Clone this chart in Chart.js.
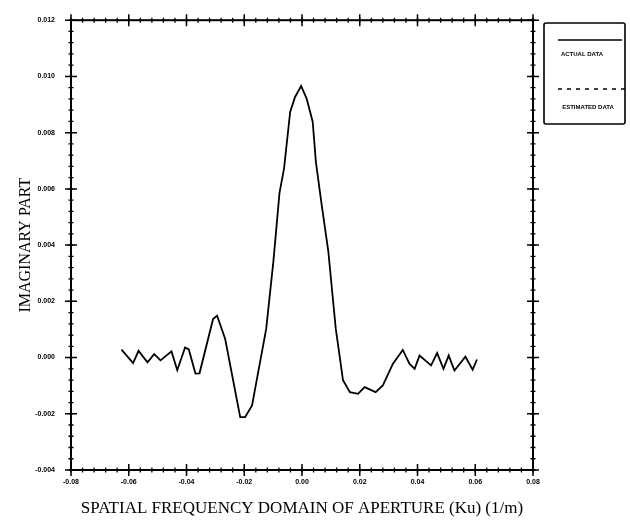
<!DOCTYPE html>
<html>
<head>
<meta charset="utf-8">
<script src="https://cdn.jsdelivr.net/npm/chart.js@4.4.1/dist/chart.umd.min.js"></script>
<style>
  html, body { margin: 0; padding: 0; background: #fff; }
  #wrap { width: 630px; height: 523px; position: relative; }
</style>
</head>
<body>
<div id="wrap"><canvas id="c" width="630" height="523"></canvas></div>
<script>
// ---- data ----
const kuValues = [-0.0625,-0.0585,-0.0566,-0.0552,-0.0535,-0.0512,-0.0490,-0.0452,-0.0432,-0.0405,-0.0392,-0.0369,-0.0355,-0.0308,-0.0294,-0.0266,-0.0214,-0.0197,-0.0173,-0.0124,-0.0099,-0.0078,-0.0062,-0.0041,-0.0024,-0.0003,0.0016,0.0037,0.0048,0.0068,0.0091,0.0117,0.0131,0.0142,0.0166,0.0194,0.0217,0.0255,0.0280,0.0315,0.0349,0.0372,0.0390,0.0407,0.0447,0.0468,0.0490,0.0508,0.0528,0.0566,0.0591,0.0606];
const actualData = [0.00028,-0.0002,0.00024,0.00005,-0.00017,0.00012,-0.0001,0.00022,-0.00045,0.00036,0.00029,-0.00057,-0.00056,0.00137,0.00149,0.00066,-0.00212,-0.00212,-0.0017,0.00102,0.00343,0.00585,0.00674,0.00874,0.00927,0.00966,0.00921,0.00839,0.00697,0.00544,0.00379,0.00102,0.00001,-0.00081,-0.00123,-0.00129,-0.00105,-0.00123,-0.00099,-0.00022,0.00027,-0.00022,-0.0004,0.00007,-0.00028,0.00016,-0.0004,0.00007,-0.00046,0.00003,-0.00043,-0.00007];
const xTicks = [-0.08,-0.06,-0.04,-0.02,0.00,0.02,0.04,0.06,0.08];
const xTickLabels = ["-0.08","-0.06","-0.04","-0.02","0.00","0.02","0.04","0.06","0.08"];
const yTicks = [-0.004,-0.002,0.000,0.002,0.004,0.006,0.008,0.010,0.012];
const yTickLabels = ["-0.004","-0.002","0.000","0.002","0.004","0.006","0.008","0.010","0.012"];
const xMinorStep = 0.004;
const yMinorStep = 0.0004;
const legendLabels = ["ACTUAL DATA", "ESTIMATED DATA"];
const xTitle = "SPATIAL FREQUENCY DOMAIN OF APERTURE (Ku) (1/m)";
const yTitle = "IMAGINARY PART";

const points = kuValues.map((x, i) => ({ x: x, y: actualData[i] }));

function minorValues(min, max, step) {
  const out = [];
  const n = Math.round((max - min) / step);
  for (let i = 0; i <= n; i++) out.push(min + i * step);
  return out;
}

const framePlugin = {
  id: 'frame',
  afterDraw(chart) {
    const { ctx, chartArea: a, scales } = chart;
    const xs = scales.x, ys = scales.y;
    ctx.save();
    ctx.strokeStyle = '#000';
    ctx.lineCap = 'butt';
    // frame
    ctx.lineWidth = 2;
    ctx.strokeRect(a.left, a.top, a.right - a.left, a.bottom - a.top);
    // ticks
    ctx.lineWidth = 1.3;
    const xm = minorValues(xTicks[0], xTicks[xTicks.length - 1], xMinorStep);
    const ym = minorValues(yTicks[0], yTicks[yTicks.length - 1], yMinorStep);
    ctx.beginPath();
    xm.forEach(v => {
      const px = xs.getPixelForValue(v);
      ctx.moveTo(px, a.bottom - 2.5); ctx.lineTo(px, a.bottom + 2.5);
      ctx.moveTo(px, a.top - 2.5); ctx.lineTo(px, a.top + 2.5);
    });
    ym.forEach(v => {
      const py = ys.getPixelForValue(v);
      ctx.moveTo(a.left - 2.5, py); ctx.lineTo(a.left + 2.5, py);
      ctx.moveTo(a.right - 2.5, py); ctx.lineTo(a.right + 2.5, py);
    });
    ctx.stroke();
    ctx.lineWidth = 1.5;
    ctx.beginPath();
    xTicks.forEach(v => {
      const px = xs.getPixelForValue(v);
      ctx.moveTo(px, a.bottom - 6); ctx.lineTo(px, a.bottom + 6);
      ctx.moveTo(px, a.top - 6); ctx.lineTo(px, a.top + 6);
    });
    yTicks.forEach(v => {
      const py = ys.getPixelForValue(v);
      ctx.moveTo(a.left - 6, py); ctx.lineTo(a.left + 6, py);
      ctx.moveTo(a.right - 6, py); ctx.lineTo(a.right + 6, py);
    });
    ctx.stroke();

    // legend box
    ctx.lineWidth = 1.6;
    ctx.beginPath();
    if (ctx.roundRect) ctx.roundRect(544, 23, 81, 101, 2); else ctx.rect(544, 23, 81, 101);
    ctx.stroke();
    ctx.lineWidth = 1.4;
    ctx.beginPath();
    ctx.moveTo(558, 40); ctx.lineTo(622, 40);
    ctx.stroke();
    ctx.setLineDash([4, 5]);
    ctx.beginPath();
    ctx.moveTo(558, 89); ctx.lineTo(625, 89);
    ctx.stroke();
    ctx.setLineDash([]);
    ctx.fillStyle = '#000';
    ctx.font = 'bold 6px "Liberation Sans", Arial, sans-serif';
    ctx.textAlign = 'center';
    ctx.textBaseline = 'middle';
    ctx.fillText(legendLabels[0], 582, 54);
    ctx.fillText(legendLabels[1], 588, 107);
    ctx.restore();
  }
};

new Chart(document.getElementById('c'), {
  type: 'scatter',
  data: {
    datasets: [{
      label: legendLabels[0],
      data: points,
      showLine: true,
      borderColor: '#000',
      borderWidth: 1.8,
      pointRadius: 0,
      tension: 0,
      fill: false
    }]
  },
  options: {
    responsive: false,
    animation: false,
    layout: { padding: { left: 0, right: 97, top: 18, bottom: 0 } },
    plugins: { legend: { display: false }, tooltip: { enabled: false } },
    scales: {
      x: {
        type: 'linear',
        min: -0.08, max: 0.08,
        afterFit(s) { s.height = 53; },
        afterBuildTicks(s) { s.ticks = xTicks.map(v => ({ value: v })); },
        grid: { display: false, drawTicks: false },
        border: { display: false },
        ticks: {
          autoSkip: false, maxRotation: 0, minRotation: 0, padding: 8,
          color: '#000',
          font: { family: '"Liberation Sans", Arial, sans-serif', size: 7, weight: 'bold' },
          callback: (v, i) => xTickLabels[i]
        },
        title: {
          display: true, text: xTitle, color: '#000',
          font: { family: '"Liberation Serif", "Times New Roman", serif', size: 17 },
          padding: { top: 0, bottom: 4 }
        }
      },
      y: {
        type: 'linear',
        min: -0.004, max: 0.012,
        afterFit(s) { s.width = 71; },
        afterBuildTicks(s) { s.ticks = yTicks.map(v => ({ value: v })); },
        grid: { display: false, drawTicks: false },
        border: { display: false },
        ticks: {
          autoSkip: false, padding: 16,
          color: '#000',
          font: { family: '"Liberation Sans", Arial, sans-serif', size: 7, weight: 'bold' },
          callback: (v, i) => yTickLabels[i]
        },
        title: {
          display: true, text: yTitle, color: '#000',
          font: { family: '"Liberation Serif", "Times New Roman", serif', size: 16 },
          padding: { top: 16, bottom: 0 }
        }
      }
    }
  },
  plugins: [framePlugin]
});
</script>
</body>
</html>
